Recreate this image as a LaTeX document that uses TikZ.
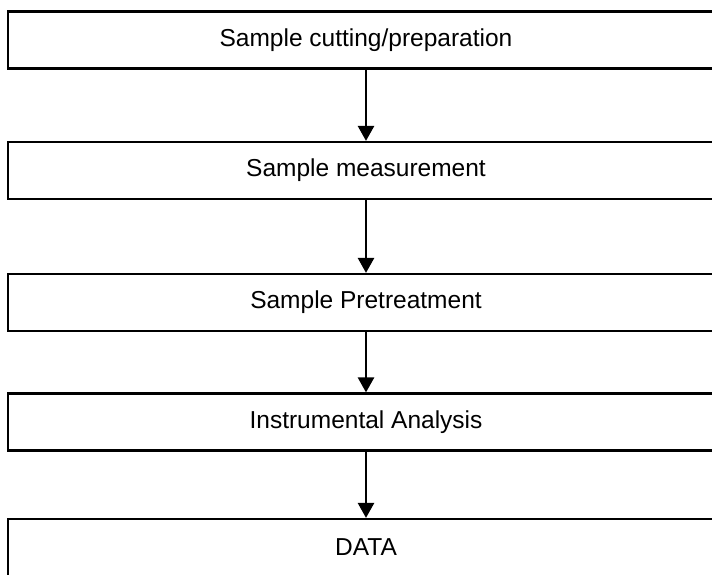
\documentclass[tikz,border=0pt]{standalone}
\usepackage{fontspec}
\setmainfont{Liberation Sans}
\usetikzlibrary{arrows.meta}
\tikzset{stage/.style={draw, line width=2.2pt, minimum width=716pt, minimum height=57pt,
    inner sep=0pt, font=\fontsize{24.5}{28}\selectfont},
  flow/.style={line width=2.6pt, -{Triangle[length=15pt,width=16pt]}}}
\newcommand{\stage}[3]{\node[stage] (#1) at (366,#2) {#3};}

\begin{document}
\begin{tikzpicture}[x=1pt, y=-1pt]
    \useasboundingbox (0,0) rectangle (712,574);
    \clip (0,0) rectangle (712,574);
    % stages
    \stage{cut}{40}{Sample cutting/preparation}
    \stage{meas}{170.5}{Sample measurement}
    \stage{pre}{302.5}{Sample Pretreatment}
    \stage{inst}{422}{Instrumental Analysis}
    \stage{data}{547.5}{DATA}
    % arrows
    \draw[flow] (cut) -- (meas);
    \draw[flow] (meas) -- (pre);
    \draw[flow] (pre) -- (inst);
    \draw[flow] (inst) -- (data);
\end{tikzpicture}
\end{document}
